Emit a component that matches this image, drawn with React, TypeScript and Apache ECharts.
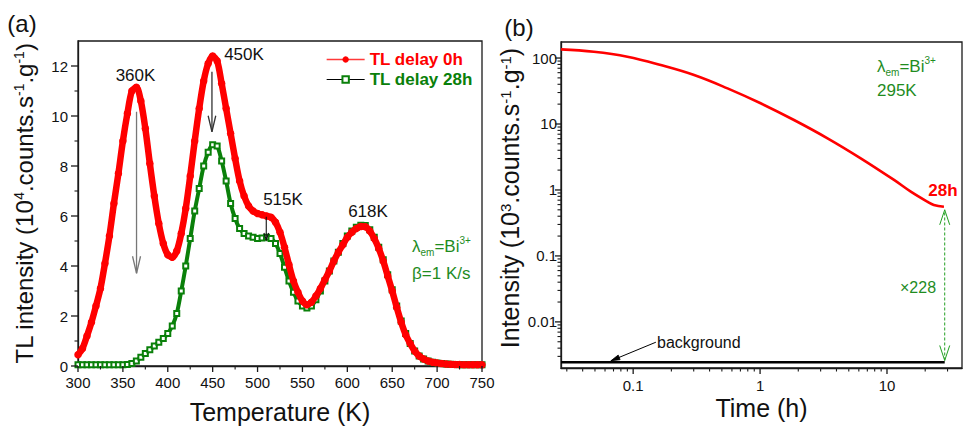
import React, { useEffect, useRef } from 'react';
import * as echarts from 'echarts';

// ---------- Panel (a): TL glow curves ----------
const TEMPERATURE_K = [
  300, 305, 310, 315, 320, 325, 330, 335, 340, 345,
  350, 355, 360, 365, 370, 375, 380, 385, 390, 395,
  400, 405, 410, 415, 420, 425, 430, 435, 440, 445,
  450, 455, 460, 465, 470, 475, 480, 485, 490, 495,
  500, 505, 510, 515, 520, 525, 530, 535, 540, 545,
  550, 555, 560, 565, 570, 575, 580, 585, 590, 595,
  600, 605, 610, 615, 620, 625, 630, 635, 640, 645,
  650, 655, 660, 665, 670, 675, 680, 685, 690, 695,
  700, 705, 710, 715, 720, 725, 730, 735, 740, 745,
  750,
];
const TL_DELAY_0H = [
  0.45, 0.7, 1.2, 1.75, 2.4, 3.1, 4.1, 5.2, 6.5, 7.7,
  9.0, 10.1, 11.0, 11.15, 10.6, 9.5, 8.1, 6.8, 5.7, 4.9,
  4.45, 4.35, 4.6, 5.3, 6.3, 7.6, 9.0, 10.3, 11.4, 12.1,
  12.4, 12.2, 11.3, 10.3, 9.3, 8.3, 7.4, 6.8, 6.4, 6.2,
  6.1, 6.05, 6.0, 5.95, 5.75, 5.35, 4.75, 4.05, 3.4, 2.95,
  2.6, 2.45, 2.55, 2.8, 3.1, 3.45, 3.8, 4.2, 4.55, 4.85,
  5.15, 5.35, 5.5, 5.58, 5.57, 5.4, 5.1, 4.7, 4.2, 3.6,
  3.0, 2.35, 1.75, 1.25, 0.9, 0.6, 0.4, 0.28, 0.2, 0.15,
  0.12, 0.1, 0.08, 0.07, 0.06, 0.055, 0.05, 0.05, 0.05, 0.05,
  0.05,
];
const TL_DELAY_28H = [
  0.05, 0.05, 0.05, 0.05, 0.05, 0.05, 0.05, 0.05, 0.05, 0.05,
  0.05, 0.06, 0.1, 0.2, 0.35, 0.5, 0.65, 0.8, 0.95, 1.1,
  1.3, 1.6, 2.1, 3.0, 4.0, 5.1, 6.2, 7.1, 8.0, 8.55,
  8.85, 8.8, 8.2, 7.4, 6.5, 5.9, 5.5, 5.3, 5.2, 5.15,
  5.1, 5.12, 5.15, 5.1, 4.9, 4.5, 3.95, 3.4, 2.95, 2.6,
  2.4, 2.32, 2.4, 2.65, 3.0, 3.4, 3.8, 4.2, 4.55, 4.9,
  5.2, 5.4, 5.55, 5.63, 5.62, 5.45, 5.15, 4.75, 4.25, 3.65,
  3.05, 2.4, 1.8, 1.3, 0.9, 0.6, 0.4, 0.28, 0.2, 0.15,
  0.12, 0.1, 0.08, 0.07, 0.06, 0.055, 0.05, 0.05, 0.05, 0.05,
  0.05,
];
const A_X_MAJOR = [300, 350, 400, 450, 500, 550, 600, 650, 700, 750];
const A_X_MINOR = [325, 375, 425, 475, 525, 575, 625, 675, 725];
const A_Y_MAJOR = [0, 2, 4, 6, 8, 10, 12];
const A_Y_MINOR = [1, 3, 5, 7, 9, 11];

// ---------- Panel (b): afterglow decay (log-log) ----------
const DECAY_TIME_H = [0.027, 0.049, 0.09, 0.165, 0.302, 0.554, 1.01, 1.85, 3.4, 6.21, 11.36, 15.4, 20.8, 23.4, 28.1];
const DECAY_INTENSITY = [135.5, 124.5, 104.6, 78.3, 55.3, 34.7, 20.6, 11.5, 6.07, 3.02, 1.42, 0.944, 0.665, 0.593, 0.558];
const BACKGROUND_TIME_H = [0.027, 28.5];
const BACKGROUND_LEVEL = [0.00245, 0.00245];

const B_X_MAJOR = [0.1, 1, 10];
const B_X_MAJOR_LABELS = ['0.1', '1', '10'];
const B_X_MINOR = [0.03, 0.04, 0.05, 0.06, 0.07, 0.08, 0.09, 0.2, 0.3, 0.4, 0.5, 0.6, 0.7, 0.8, 0.9, 2, 3, 4, 5, 6, 7, 8, 9, 20, 30];
const B_Y_MAJOR = [0.01, 0.1, 1, 10, 100];
const B_Y_MAJOR_LABELS = ['0.01', '0.1', '1', '10', '100'];
const B_Y_MINOR = [
  0.003, 0.004, 0.005, 0.006, 0.007, 0.008, 0.009,
  0.02, 0.03, 0.04, 0.05, 0.06, 0.07, 0.08, 0.09,
  0.2, 0.3, 0.4, 0.5, 0.6, 0.7, 0.8, 0.9,
  2, 3, 4, 5, 6, 7, 8, 9,
  20, 30, 40, 50, 60, 70, 80, 90,
];
const B_X_RANGE = [0.027, 39];
const B_Y_RANGE = [0.002, 175];

const FONT = 'Liberation Sans, Arial, sans-serif';
const RED = '#ff0000';
const GREEN = '#0a800a';
const GREEN_TEXT = '#1f8c1f';
const AXIS = '#1a1a1a';

const lg = (v: number) => Math.log10(v);

function makeLabelFormatter(values: number[], labels: string[]) {
  const logs = values.map(lg);
  return (v: number) => {
    const i = logs.findIndex((l) => Math.abs(l - v) < 1e-6);
    return i >= 0 ? labels[i] : '';
  };
}

function arrowEls(p1: number[], p2: number[], o: { color: string; width: number; head: number; half: number; dash?: number[]; filled?: boolean; shaft?: boolean }) {
  const dx = p2[0] - p1[0];
  const dy = p2[1] - p1[1];
  const len = Math.hypot(dx, dy) || 1;
  const ux = dx / len, uy = dy / len;
  const bx = p2[0] - ux * o.head, by = p2[1] - uy * o.head;
  const nx = -uy, ny = ux;
  const l = [bx + nx * o.half, by + ny * o.half];
  const r = [bx - nx * o.half, by - ny * o.half];
  const els: any[] = [];
  if (o.shaft !== false) {
    els.push({
      type: 'line', silent: true, z: 50,
      shape: { x1: p1[0], y1: p1[1], x2: p2[0], y2: p2[1] },
      style: { stroke: o.color, lineWidth: o.width, lineDash: o.dash || null },
    });
  }
  if (o.filled) {
    els.push({ type: 'polygon', silent: true, z: 50, shape: { points: [l, p2, r] }, style: { fill: o.color, stroke: o.color, lineWidth: 0.8 } });
  } else {
    els.push({ type: 'polyline', silent: true, z: 50, shape: { points: [l, p2, r] }, style: { stroke: o.color, lineWidth: o.width, fill: null } });
  }
  return els;
}

function text(x: number, y: number, t: string, style: any) {
  return {
    type: 'text', x, y, silent: true, z: 60,
    style: { text: t, fontFamily: FONT, textAlign: 'center', textVerticalAlign: 'middle', fill: '#111', ...style },
  };
}

function tickLine(x1: number, y1: number, x2: number, y2: number, w: number) {
  return { type: 'line', silent: true, z: 40, shape: { x1, y1, x2, y2 }, style: { stroke: AXIS, lineWidth: w } };
}

const lambdaRich = (size: number) => ({
  l: { fontSize: size, fontFamily: FONT, fill: GREEN_TEXT, lineHeight: 22 },
  sub: { fontSize: 10, fontFamily: FONT, fill: GREEN_TEXT, verticalAlign: 'bottom', lineHeight: 12 },
  m: { fontSize: size, fontFamily: FONT, fill: GREEN_TEXT, lineHeight: 22 },
  sup: { fontSize: 10, fontFamily: FONT, fill: GREEN_TEXT, verticalAlign: 'top', lineHeight: 12 },
});

export default function App() {
  const ref = useRef<HTMLDivElement>(null);

  useEffect(() => {
    if (!ref.current) return;
    const chart = echarts.init(ref.current, null, { renderer: 'svg' });

    const axisLine = { show: true, onZero: false, lineStyle: { color: AXIS, width: 1.3 } };
    const noTick = { show: false };
    const labelStyle = { fontSize: 15, color: '#111', fontFamily: FONT };
    const nameStyle = (size: number) => ({
      fontSize: size, color: '#111', fontFamily: FONT,
      rich: { sup: { fontSize: Math.round(size * 0.6), color: '#111', fontFamily: FONT, verticalAlign: 'top' } },
    });

    const option: any = {
      animation: false,
      textStyle: { fontFamily: FONT },
      grid: [
        { left: 78, top: 41, width: 404, height: 325, show: true, borderColor: AXIS, borderWidth: 1.3, backgroundColor: 'transparent', outerBoundsMode: 'none', containLabel: false },
        { left: 561, top: 42, width: 401, height: 326, show: true, borderColor: AXIS, borderWidth: 1.3, backgroundColor: 'transparent', outerBoundsMode: 'none', containLabel: false },
      ],
      legend: {
        data: [
          { name: 'TL delay 0h', textStyle: { color: RED }, lineStyle: { color: '#ff3a3a', width: 1.3 }, itemStyle: { color: RED } },
          { name: 'TL delay 28h', textStyle: { color: GREEN }, lineStyle: { color: '#000', width: 1.2 }, itemStyle: { color: GREEN, borderColor: GREEN, borderWidth: 1.3 } },
        ],
        orient: 'vertical', left: 326, top: 51, itemWidth: 38, itemHeight: 8, itemGap: 3, padding: 0,
        textStyle: { fontSize: 17, fontWeight: 'bold', fontFamily: FONT },
        selectedMode: false,
      },
      xAxis: [
        {
          gridIndex: 0, type: 'value', min: 300, max: 750, interval: 50, position: 'bottom',
          axisLine, axisTick: noTick, minorTick: noTick,
          splitLine: { show: false }, minorSplitLine: { show: false },
          axisLabel: { ...labelStyle, margin: 9 },
          name: 'Temperature (K)', nameLocation: 'middle', nameGap: 33, nameMoveOverlap: false, nameTextStyle: nameStyle(25),
        },
        {
          gridIndex: 1, type: 'value', min: lg(B_X_RANGE[0]), max: lg(B_X_RANGE[1]), position: 'bottom',
          axisLine, axisTick: noTick,
          splitLine: { show: false },
          axisLabel: { ...labelStyle, margin: 10, customValues: B_X_MAJOR.map(lg), formatter: makeLabelFormatter(B_X_MAJOR, B_X_MAJOR_LABELS) },
          name: 'Time (h)', nameLocation: 'middle', nameGap: 27, nameMoveOverlap: false, nameTextStyle: nameStyle(25),
        },
      ],
      yAxis: [
        {
          gridIndex: 0, type: 'value', min: 0, max: 13, position: 'left',
          axisLine, axisTick: noTick,
          splitLine: { show: false },
          axisLabel: { ...labelStyle, margin: 10, customValues: A_Y_MAJOR },
          name: 'TL intensity (10{sup|4}.counts.s{sup|-1}.g{sup|-1})',
          nameLocation: 'middle', nameGap: 42, nameMoveOverlap: false, nameTextStyle: nameStyle(24),
        },
        {
          gridIndex: 1, type: 'value', min: lg(B_Y_RANGE[0]), max: lg(B_Y_RANGE[1]), position: 'left',
          axisLine, axisTick: noTick,
          splitLine: { show: false },
          axisLabel: { ...labelStyle, margin: 4, customValues: B_Y_MAJOR.map(lg), formatter: makeLabelFormatter(B_Y_MAJOR, B_Y_MAJOR_LABELS) },
        },
      ],
      series: [
        {
          name: 'TL delay 28h', type: 'line', xAxisIndex: 0, yAxisIndex: 0,
          data: TEMPERATURE_K.map((t, i) => [t, TL_DELAY_28H[i]]),
          smooth: 0.3, symbol: 'emptyRect', symbolSize: 5, showSymbol: true,
          itemStyle: { color: GREEN, borderColor: GREEN, borderWidth: 1.2 },
          lineStyle: { color: GREEN, width: 4 }, z: 2,
        },
        {
          name: 'TL delay 0h', type: 'line', xAxisIndex: 0, yAxisIndex: 0,
          data: TEMPERATURE_K.map((t, i) => [t, TL_DELAY_0H[i]]),
          smooth: 0.3, symbol: 'circle', symbolSize: 7.5, showSymbol: true,
          itemStyle: { color: RED },
          lineStyle: { color: RED, width: 6.5 }, z: 3,
        },
        {
          name: 'decay', type: 'line', xAxisIndex: 1, yAxisIndex: 1,
          data: DECAY_TIME_H.map((t, i) => [lg(t), lg(DECAY_INTENSITY[i])]),
          smooth: 0.4, symbol: 'none', lineStyle: { color: RED, width: 2.6 },
        },
        {
          name: 'background', type: 'line', xAxisIndex: 1, yAxisIndex: 1,
          data: BACKGROUND_TIME_H.map((t, i) => [lg(t), lg(BACKGROUND_LEVEL[i])]),
          symbol: 'none', lineStyle: { color: '#000', width: 2.5 },
        },
      ],
    };
    chart.setOption(option);

    const pA = (x: number, y: number) => chart.convertToPixel({ xAxisIndex: 0, yAxisIndex: 0 }, [x, y]) as number[];
    const pB = (t: number, v: number) => chart.convertToPixel({ xAxisIndex: 1, yAxisIndex: 1 }, [lg(t), lg(v)]) as number[];

    // axis ticks, placed through the axes' own scales
    const ticks: any[] = [];
    const a0 = pA(300, 0);
    A_X_MAJOR.forEach((v) => { const x = pA(v, 0)[0]; ticks.push(tickLine(x, a0[1], x, a0[1] + 6, 1.3)); });
    A_X_MINOR.forEach((v) => { const x = pA(v, 0)[0]; ticks.push(tickLine(x, a0[1], x, a0[1] + 3.5, 1.1)); });
    A_Y_MAJOR.forEach((v) => { const y = pA(300, v)[1]; ticks.push(tickLine(a0[0] - 7, y, a0[0], y, 1.3)); });
    A_Y_MINOR.forEach((v) => { const y = pA(300, v)[1]; ticks.push(tickLine(a0[0] - 3.5, y, a0[0], y, 1.1)); });
    const b0 = pB(B_X_RANGE[0], B_Y_RANGE[0]);
    B_X_MAJOR.forEach((v) => { const x = pB(v, 1)[0]; ticks.push(tickLine(x, b0[1], x, b0[1] + 6, 1.3)); });
    B_X_MINOR.forEach((v) => { const x = pB(v, 1)[0]; ticks.push(tickLine(x, b0[1], x, b0[1] + 3.5, 1.1)); });
    B_Y_MAJOR.forEach((v) => { const y = pB(1, v)[1]; ticks.push(tickLine(b0[0] - 6, y, b0[0], y, 1.3)); });
    B_Y_MINOR.forEach((v) => { const y = pB(1, v)[1]; ticks.push(tickLine(b0[0] - 3.5, y, b0[0], y, 1.1)); });

    const g: any[] = [
      ...ticks,
      {
        type: 'text', x: 510, y: 198, rotation: Math.PI / 2, silent: true, z: 60,
        style: {
          text: 'Intensity (10{sup|3}.counts.s{sup|-1}.g{sup|-1})', fontFamily: FONT, fontSize: 25, fill: '#111',
          textAlign: 'center', textVerticalAlign: 'middle',
          rich: { sup: { fontSize: 15, fontFamily: FONT, fill: '#111', verticalAlign: 'top' } },
        },
      },
      text(22, 23, '(a)', { fontSize: 24 }),
      text(519, 27, '(b)', { fontSize: 24 }),
      text(135.5, 75, '360K', { fontSize: 17 }),
      text(244, 54, '450K', { fontSize: 17 }),
      text(283, 199, '515K', { fontSize: 17 }),
      text(368, 211, '618K', { fontSize: 17 }),
      {
        type: 'text', x: 412, y: 246, silent: true, z: 60,
        style: { text: '{l|λ}{sub|em}{m|=Bi}{sup|3+}', rich: lambdaRich(17), textAlign: 'left', textVerticalAlign: 'middle' },
      },
      text(412, 273, 'β=1 K/s', { fontSize: 17, fill: GREEN_TEXT, textAlign: 'left' }),
      {
        type: 'text', x: 877, y: 66, silent: true, z: 60,
        style: { text: '{l|λ}{sub|em}{m|=Bi}{sup|3+}', rich: lambdaRich(17), textAlign: 'left', textVerticalAlign: 'middle' },
      },
      text(877, 90, '295K', { fontSize: 17, fill: GREEN_TEXT, textAlign: 'left' }),
      text(943, 190, '28h', { fontSize: 17, fontWeight: 'bold', fill: RED }),
      text(918, 287, '×228', { fontSize: 16, fill: GREEN_TEXT }),
      text(657, 342.5, 'background', { fontSize: 16, textAlign: 'left' }),
      ...arrowEls(pA(365.2, 10.17), pA(365.2, 3.71), { color: '#777', width: 1.3, head: 17, half: 4 }),
      ...arrowEls(pA(449.2, 11.77), pA(449.2, 9.37), { color: '#333', width: 1.3, head: 16, half: 3.8 }),
      ...arrowEls(pA(509.7, 5.97), pA(509.7, 5.04), { color: '#111', width: 1.1, head: 7, half: 2.3 }),
      ...arrowEls(pB(28.5, 0.0026), pB(28.5, 0.5), { color: '#22a022', width: 1, head: 15, half: 5, dash: [3, 2] }),
      ...arrowEls(pB(28.5, 0.5), pB(28.5, 0.0026), { color: '#22a022', width: 1, head: 15, half: 5, shaft: false }),
      ...arrowEls(pB(0.151, 0.00492), pB(0.0667, 0.00257), { color: '#000', width: 1, head: 9, half: 2.5, filled: true }),
    ];
    chart.setOption({ graphic: g });

    return () => chart.dispose();
  }, []);

  return (
    <div
      ref={ref}
      style={{ position: 'fixed', left: 0, top: 0, width: 963, height: 426, background: '#fff' }}
    />
  );
}
